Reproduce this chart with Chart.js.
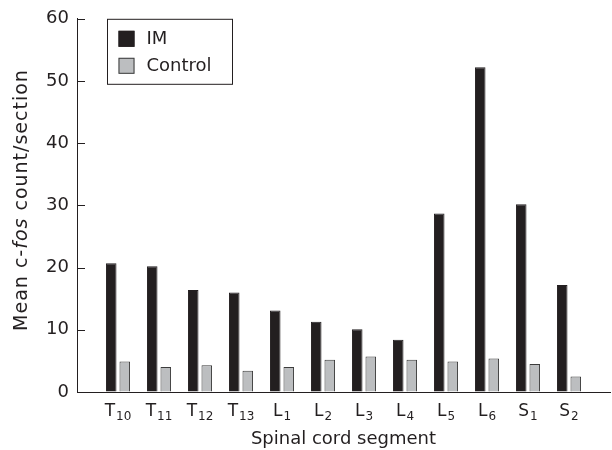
<!DOCTYPE html>
<html>
<head>
<meta charset="utf-8">
<script src="https://cdn.jsdelivr.net/npm/chart.js@4/dist/chart.umd.min.js"></script>
<style>
  html, body { margin: 0; padding: 0; background: #ffffff; }
  #c { display: block; }
</style>
</head>
<body>
<canvas id="c" width="612" height="450"></canvas>
<script>
// ---- data ----
const categories = ['T10', 'T11', 'T12', 'T13', 'L1', 'L2', 'L3', 'L4', 'L5', 'L6', 'S1', 'S2'];
const imValues = [20.7, 20.2, 16.4, 16.0, 13.1, 11.3, 10.1, 8.4, 28.7, 52.2, 30.2, 17.2];
const controlValues = [4.9, 4.0, 4.3, 3.4, 4.0, 5.2, 5.7, 5.2, 4.9, 5.4, 4.5, 2.5];
const seriesNames = ['IM', 'Control'];
const yTicks = [0, 10, 20, 30, 40, 50, 60];
const xTitle = 'Spinal cord segment';
const yTitleParts = [['Mean c-', false], ['fos', true], [' count/section', false]];

// ---- styles ----
const FONT = '"DejaVu Sans", sans-serif';
const INK = '#231f20';
const IM_FILL = '#231f20';
const CTRL_FILL = '#bcbec0';
const CTRL_BORDER = '#3c3c3c';

// padded labels so that first/last categories sit one slot in from the axis ends
const axisLabels = [''].concat(categories, ['']);
const pad = arr => [null].concat(arr, [null]);

const subscriptLabels = {
  id: 'subscriptLabels',
  afterDraw(chart) {
    const ctx = chart.ctx;
    const xs = chart.scales.x;
    ctx.save();
    ctx.fillStyle = INK;
    ctx.textBaseline = 'alphabetic';
    ctx.textAlign = 'left';
    categories.forEach((lab, i) => {
      const main = lab.replace(/[0-9]+$/, '');
      const sub = lab.slice(main.length);
      const x = xs.getPixelForValue(i + 1);
      ctx.font = '17px ' + FONT;
      const wm = ctx.measureText(main).width;
      ctx.font = '12px ' + FONT;
      const ws = ctx.measureText(sub).width;
      const x0 = x - (wm + ws + 1) / 2;
      ctx.font = '17px ' + FONT;
      ctx.fillText(main, x0, 416);
      ctx.font = '12px ' + FONT;
      ctx.fillText(sub, x0 + wm + 1, 420);
    });
    // x title
    ctx.font = '18px ' + FONT;
    ctx.textAlign = 'center';
    ctx.fillText(xTitle, (chart.chartArea.left + chart.chartArea.right) / 2, 444);
    // y title with italic part
    ctx.translate(22, 200);
    ctx.rotate(-Math.PI / 2);
    ctx.textBaseline = 'middle';
    ctx.textAlign = 'left';
    if ('letterSpacing' in ctx) ctx.letterSpacing = '1px';
    let total = 0;
    yTitleParts.forEach(([t, it]) => {
      ctx.font = (it ? 'italic ' : '') + '19px ' + FONT;
      total += ctx.measureText(t).width;
    });
    let xp = -total / 2;
    yTitleParts.forEach(([t, it]) => {
      ctx.font = (it ? 'italic ' : '') + '19px ' + FONT;
      ctx.fillText(t, xp, 0);
      xp += ctx.measureText(t).width;
    });
    ctx.restore();
  }
};

const inwardTicks = {
  id: 'inwardTicks',
  afterDraw(chart) {
    const ctx = chart.ctx;
    const ys = chart.scales.y;
    const left = chart.chartArea.left;
    ctx.save();
    ctx.strokeStyle = INK;
    ctx.lineWidth = 1;
    ys.ticks.forEach(t => {
      if (t.value === 0) return;
      const y = Math.round(ys.getPixelForValue(t.value)) + 0.5;
      ctx.beginPath();
      ctx.moveTo(left, y);
      ctx.lineTo(left + 8, y);
      ctx.stroke();
    });
    ctx.restore();
  }
};

const boxLegend = {
  id: 'boxLegend',
  afterDraw(chart) {
    const ctx = chart.ctx;
    const a = chart.chartArea;
    const bx = a.left + 30.5, by = a.top + 0.5, bw = 125, bh = 65;
    ctx.save();
    ctx.strokeStyle = INK;
    ctx.lineWidth = 1;
    ctx.fillStyle = '#ffffff';
    ctx.fillRect(bx, by, bw, bh);
    ctx.strokeRect(bx, by, bw, bh);
    chart.data.datasets.forEach((ds, i) => {
      const sy = by + 11.5 + i * 27;
      ctx.fillStyle = ds.backgroundColor;
      ctx.fillRect(bx + 11, sy, 16, 16);
      ctx.strokeStyle = ds.borderColor;
      ctx.strokeRect(bx + 11.5, sy + 0.5, 15, 15);
      ctx.fillStyle = INK;
      ctx.font = '18px ' + FONT;
      ctx.textBaseline = 'middle';
      ctx.textAlign = 'left';
      ctx.fillText(ds.label, bx + 39, sy + 8.5);
    });
    ctx.restore();
  }
};

new Chart(document.getElementById('c'), {
  type: 'bar',
  data: {
    labels: axisLabels,
    datasets: [
      {
        label: seriesNames[0],
        data: pad(imValues),
        backgroundColor: IM_FILL,
        borderColor: IM_FILL,
        borderWidth: 1,
        categoryPercentage: 0.66,
        barPercentage: 0.78
      },
      {
        label: seriesNames[1],
        data: pad(controlValues),
        backgroundColor: CTRL_FILL,
        borderColor: CTRL_BORDER,
        borderWidth: 1,
        categoryPercentage: 0.66,
        barPercentage: 0.78
      }
    ]
  },
  options: {
    responsive: false,
    devicePixelRatio: 1,
    animation: false,
    layout: { padding: { top: 15, right: 2, left: 0, bottom: 0 } },
    plugins: {
      legend: { display: false },
      tooltip: { enabled: false }
    },
    scales: {
      x: {
        type: 'category',
        offset: false,
        grid: { display: false, drawTicks: false },
        border: { display: true, color: INK, width: 1 },
        ticks: { display: false },
        afterFit(s) { s.height = 58; }
      },
      y: {
        min: 0,
        max: 60,
        afterBuildTicks(s) { s.ticks = yTicks.map(v => ({ value: v })); },
        ticks: { color: INK, font: { size: 18, family: FONT }, padding: 8 },
        grid: { drawOnChartArea: false, drawTicks: false },
        border: { display: true, color: INK, width: 1 },
        afterFit(s) { s.width = 77; }
      }
    }
  },
  plugins: [subscriptLabels, inwardTicks, boxLegend]
});
</script>
</body>
</html>
